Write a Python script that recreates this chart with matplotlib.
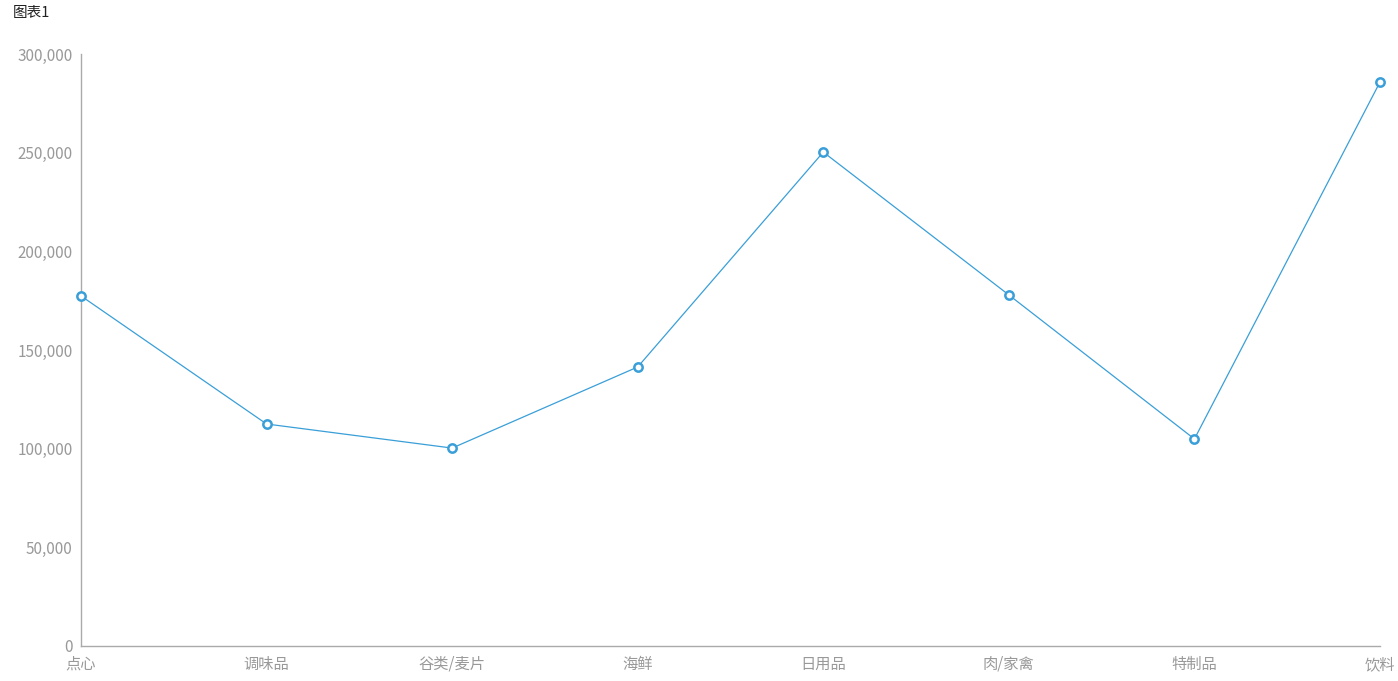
import matplotlib
matplotlib.use('Agg')
import matplotlib.pyplot as plt
from matplotlib.ticker import FuncFormatter

plt.rcParams['font.family'] = ['Noto Sans CJK SC', 'DejaVu Sans']

categories = ['点心', '调味品', '谷类/麦片', '海鲜', '日用品', '肉/家禽', '特制品', '饮料']
sales = [177400, 112500, 100300, 141400, 250300, 177900, 104900, 285800]
y_ticks = [0, 50000, 100000, 150000, 200000, 250000, 300000]

fig = plt.figure(figsize=(13.98, 6.81), dpi=100)
ax = fig.add_axes([81 / 1398, 35 / 681, (1380 - 81) / 1398, (646 - 54) / 681])

x = list(range(len(categories)))
ax.plot(x, sales, color='#3a9fd8', linewidth=0.9, marker='o', markersize=6,
        markerfacecolor='white', markeredgecolor='#3a9fd8', markeredgewidth=1.8,
        clip_on=False, zorder=3)

ax.set_xlim(0, len(categories) - 1)
ax.set_ylim(0, 300000)
ax.set_xticks(x)
ax.set_xticklabels(categories)
ax.set_yticks(y_ticks)
ax.yaxis.set_major_formatter(FuncFormatter(lambda v, p: f'{int(v):,}'))
ax.tick_params(axis='both', length=0, colors='#999999', labelsize=11)
ax.tick_params(axis='y', pad=6)
ax.tick_params(axis='x', pad=7)

for side in ['top', 'right']:
    ax.spines[side].set_visible(False)
for side in ['left', 'bottom']:
    ax.spines[side].set_color('#aaaaaa')
    ax.spines[side].set_linewidth(1)

fig.text(13 / 1398, 1 - 13 / 681, '图表1', fontsize=10.5, color='#222222', va='center', ha='left')

fig.savefig('out.png', dpi=100)
